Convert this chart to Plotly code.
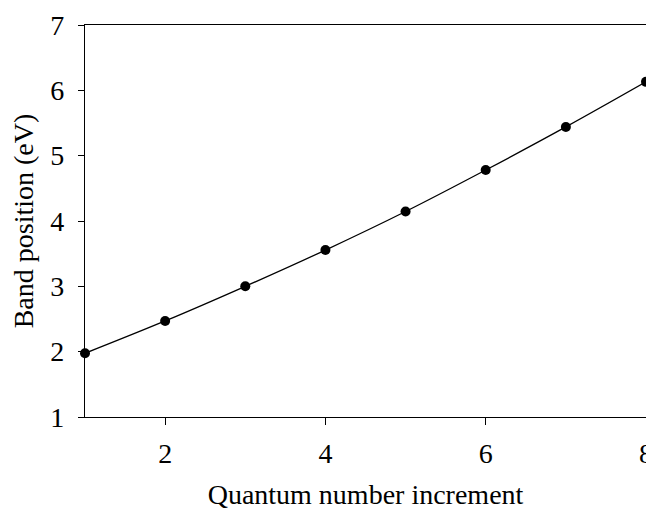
import plotly.graph_objects as go

quantum_increment = [1, 2, 3, 4, 5, 6, 7, 8]
band_position_ev = [1.975, 2.47, 3.00, 3.555, 4.145, 4.78, 5.44, 6.13]

x_tickvals = [2, 4, 6, 8]
y_tickvals = [1, 2, 3, 4, 5, 6, 7]

font_family = "Liberation Serif, Times New Roman, serif"

fig = go.Figure()
fig.add_trace(go.Scatter(
    x=quantum_increment, y=band_position_ev,
    mode="lines+markers",
    line=dict(color="black", width=1.3, shape="spline"),
    marker=dict(color="black", size=10),
    cliponaxis=False,
    showlegend=False,
))

# page body has an 8px default margin, so the figure is sized to fit the window
fig.update_layout(
    width=646, height=502,
    margin=dict(l=77, r=8, t=17, b=93),
    paper_bgcolor="white", plot_bgcolor="white",
    font=dict(family=font_family, size=28, color="black"),
)
fig.update_xaxes(
    range=[1, 8], tickvals=x_tickvals, automargin=False,
    showgrid=False, zeroline=False,
    showline=True, linecolor="black", linewidth=1.3, mirror=True,
    ticks="outside", ticklen=7, tickwidth=1, tickcolor="black",
    tickfont=dict(size=28), ticklabelstandoff=4,
    title=dict(text="Quantum number increment", font=dict(size=28), standoff=19),
)
fig.update_yaxes(
    range=[1, 7], tickvals=y_tickvals, automargin=False,
    showgrid=False, zeroline=False,
    showline=True, linecolor="black", linewidth=1.3, mirror=True,
    ticks="outside", ticklen=6, tickwidth=1, tickcolor="black",
    tickfont=dict(size=28), ticklabelstandoff=8,
    title=dict(text="Band position (eV)", font=dict(size=28), standoff=12),
)

fig.write_html("out.html")
